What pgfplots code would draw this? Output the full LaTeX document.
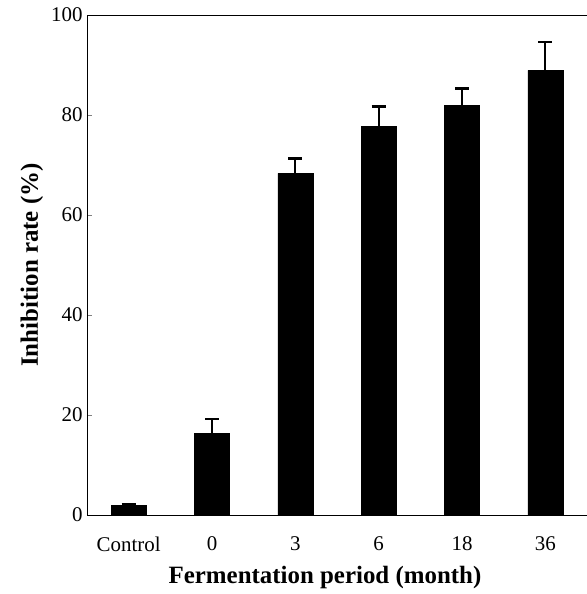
\documentclass[border=0pt]{standalone}
\usepackage{pgfplots}
\pgfplotsset{compat=1.18}
\usepackage{fontspec}
\setmainfont{Liberation Serif}
\begin{document}
\begin{tikzpicture}
\path[use as bounding box] (-87bp,-79bp) rectangle (500bp,515bp);
\begin{axis}[
  at={(0,0)}, anchor=south west,
  scale only axis, width=500bp, height=500bp,
  xmin=-0.5, xmax=5.5, ymin=0, ymax=100,
  axis line style={line width=0.6pt},
  xtick={0,1,2,3,4,5},
  xticklabels={Control,0,3,6,18,36},
  major x tick style={draw=none},
  extra x ticks={0.5,1.5,2.5,3.5,4.5},
  extra x tick labels={},
  extra x tick style={tick align=inside, major tick length=5bp, xtick pos=bottom, tick style={draw=black, line width=0.5pt}},
  ytick={0,20,40,60,80,100},
  ytick pos=left, tick align=inside, major tick length=5bp,
  /pgf/number format/assume math mode=true,
  tick label style={font=\fontsize{21}{24}\selectfont},
  xticklabel style={yshift=-18bp},
  yticklabel style={xshift=-1bp},
  xlabel={\textbf{Fermentation period (month)}},
  ylabel={\textbf{Inhibition rate (\%)}},
  label style={font=\fontsize{25}{28}\selectfont},
  xlabel style={at={(axis description cs:0.476,-0.126)}, anchor=center},
  ylabel style={at={(axis description cs:-0.11,0.5)}, anchor=center, rotate=0},
]
\addplot[ybar, bar width=35bp, fill=black, draw=black,
  error bars/.cd, y dir=plus, y explicit,
  error bar style={line width=2.2pt},
  error mark options={rotate=90, mark size=7bp, line width=2.2pt}]
  coordinates {
  (0,1.9) +- (0,0.3)
  (1,16.3) +- (0,2.9)
  (2,68.3) +- (0,3.0)
  (3,77.7) +- (0,4.0)
  (4,81.9) +- (0,3.4)
  (5,88.9) +- (0,5.7)
  };
\end{axis}
\end{tikzpicture}
\end{document}
